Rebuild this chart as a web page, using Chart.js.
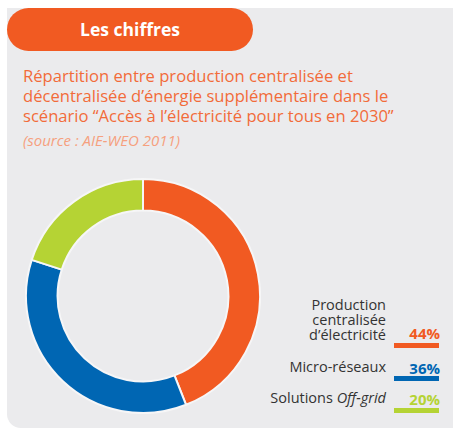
<!DOCTYPE html>
<html><head><meta charset="utf-8">
<script src="https://cdn.jsdelivr.net/npm/chart.js@4/dist/chart.umd.min.js"></script>
<style>
html,body{margin:0;padding:0;background:#fff;width:453px;height:430px;overflow:hidden;font-family:"Open Sans","Noto Sans",sans-serif;}
#panel{position:absolute;left:7px;top:8px;width:446px;height:420px;background:#ebebed;border-bottom-left-radius:14px;}
#pill{position:absolute;left:7px;top:8px;width:246px;height:43px;background:#f15a22;border-radius:22px;color:#fff;font-weight:700;font-size:17.5px;line-height:43px;text-align:center;}
#title{position:absolute;left:23px;top:66px;color:#f26b3a;font-size:16.6px;line-height:20px;white-space:nowrap;}
#src{position:absolute;left:23px;top:130px;color:#f6a07e;font-size:15px;font-style:italic;white-space:nowrap;}
#chartbox{position:absolute;left:25px;top:178px;width:236px;height:236px;}
.lab{position:absolute;right:67px;color:#333;font-size:14.5px;line-height:15px;text-align:right;white-space:nowrap;}
.pct{position:absolute;right:13px;font-weight:700;font-size:15px;line-height:16px;text-align:right;}
.bar{position:absolute;left:394px;width:45px;height:5px;}
</style></head><body>
<div id="panel"></div>
<div id="pill">Les chiffres</div>
<div id="title">Répartition entre production centralisée et<br>décentralisée d’énergie supplémentaire dans le<br>scénario “Accès à l’électricité pour tous en 2030”</div>
<div id="src">(source : AIE-WEO 2011)</div>
<div id="chartbox"><canvas id="c"></canvas></div>
<div id="legend"></div>
<script>
const categories = ["Production centralisée d'électricité", "Micro-réseaux", "Solutions Off-grid"];
const values = [44, 36, 20];
const colors = ["#f15a22", "#0066b3", "#b5d334"];
const pctLabels = ["44%", "36%", "20%"];

new Chart(document.getElementById('c'), {
  type: 'doughnut',
  data: { labels: categories, datasets: [{ data: values, backgroundColor: colors, borderColor: '#f6f6f7', borderWidth: 2 }] },
  options: {
    responsive: true, maintainAspectRatio: false, animation: false,
    cutout: '73%', layout: { padding: 0 },
    plugins: { legend: { display: false }, tooltip: { enabled: false } }
  }
});

// legend drawn as HTML text
const leg = document.getElementById('legend');
const labelHtml = ["Production<br>centralisée<br>d’électricité", "Micro-réseaux", "Solutions <i>Off-grid</i>"];
const labelTops = [297, 359, 390];
const pctTops = [325, 360, 391];
const barTops = [343, 376, 408];
categories.forEach((c, i) => {
  const l = document.createElement('div'); l.className = 'lab'; l.style.top = labelTops[i] + 'px'; l.innerHTML = labelHtml[i]; leg.appendChild(l);
  const p = document.createElement('div'); p.className = 'pct'; p.style.top = pctTops[i] + 'px'; p.style.color = colors[i]; p.textContent = pctLabels[i]; leg.appendChild(p);
  const b = document.createElement('div'); b.className = 'bar'; b.style.top = barTops[i] + 'px'; b.style.background = colors[i]; leg.appendChild(b);
});
</script>
</body></html>
